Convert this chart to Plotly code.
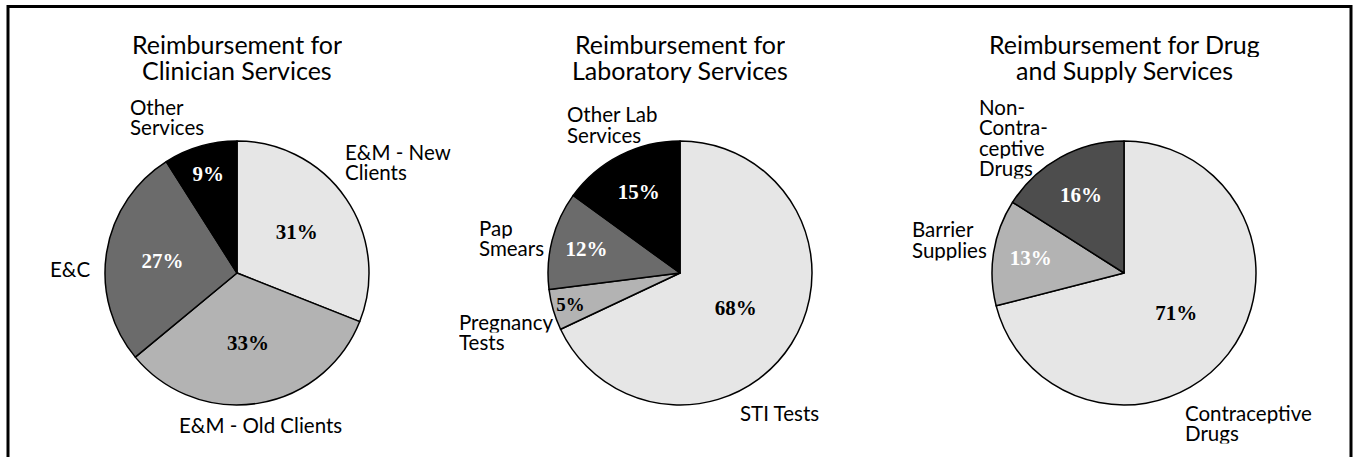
"""Reimbursement breakdown: three pie charts side by side."""

import plotly.graph_objects as go

# ── Data ────────────────────────────────────────────────────────────────────
clinician_labels = ["E&M - New Clients", "E&M - Old Clients", "E&C", "Other Services"]
clinician_values = [31, 33, 27, 9]

lab_labels = ["STI Tests", "Pregnancy Tests", "Pap Smears", "Other Lab Services"]
lab_values = [68, 5, 12, 15]

drug_labels = ["Contraceptive Drugs", "Barrier Supplies", "Non-Contraceptive Drugs"]
drug_values = [71, 13, 16]

titles = [
    ["Reimbursement for", "Clinician Services"],
    ["Reimbursement for", "Laboratory Services"],
    ["Reimbursement for Drug", "and Supply Services"],
]

# ── Styles ──────────────────────────────────────────────────────────────────
W, H = 1353, 457
LABEL_FONT = "Lato, 'Open Sans', sans-serif"
PCT_FONT = "'Liberation Serif', 'DejaVu Serif', serif"

LIGHT, MID, GRAY, DARK, BLACK = "#e6e6e6", "#b3b3b3", "#6b6b6b", "#4d4d4d", "#000000"

pies = [
    dict(labels=clinician_labels, values=clinician_values,
         colors=[LIGHT, MID, GRAY, BLACK],
         text_colors=["black", "black", "white", "white"], cx=237),
    dict(labels=lab_labels, values=lab_values,
         colors=[LIGHT, MID, GRAY, BLACK],
         text_colors=["black", "black", "white", "white"], cx=680),
    dict(labels=drug_labels, values=drug_values,
         colors=[LIGHT, MID, DARK],
         text_colors=["black", "white", "white"], cx=1124),
]
CY, R = 273, 132
LINE_GAP = 20.5     # spacing of the outside label lines, px
TITLE_GAP = 26

# outside slice labels: lines, left edge, centre of first line (px)
side_labels = [
    (["Other", "Services"], 128, 107),
    (["E&M - New", "Clients"], 343, 152),
    (["E&C"], 48, 269),
    (["E&M - Old Clients"], 177, 425),
    (["Other Lab", "Services"], 565, 115),
    (["Pap", "Smears"], 477, 228),
    (["Pregnancy", "Tests"], 457, 322),
    (["STI Tests"], 738, 413),
    (["Non-", "Contra-", "ceptive", "Drugs"], 977, 107),
    (["Barrier", "Supplies"], 910, 230),
    (["Contraceptive", "Drugs"], 1183, 413),
]

fig = go.Figure()

for p in pies:
    fig.add_trace(go.Pie(
        labels=p["labels"],
        values=p["values"],
        sort=False,
        direction="clockwise",
        rotation=0,
        marker=dict(colors=p["colors"], line=dict(color="black", width=1.5)),
        textinfo="none",
        texttemplate="<b>%{value}%</b>",
        textposition="inside",
        insidetextorientation="horizontal",
        textfont=dict(family=PCT_FONT, size=21, color=p["text_colors"]),
        hoverinfo="label+percent",
        showlegend=False,
        domain=dict(
            x=[(p["cx"] - R) / W, (p["cx"] + R) / W],
            y=[(H - CY - R) / H, (H - CY + R) / H],
        ),
    ))

annotations = []
for lines, p in zip(titles, pies):
    for i, line in enumerate(lines):
        annotations.append(dict(
            text=line, x=p["cx"] / W, y=1 - (44 + i * TITLE_GAP) / H,
            xref="paper", yref="paper", xanchor="center", yanchor="middle",
            height=TITLE_GAP, showarrow=False,
            font=dict(family=LABEL_FONT, size=25, color="black"),
        ))
for lines, x, y in side_labels:
    for i, line in enumerate(lines):
        annotations.append(dict(
            text=line, x=x / W, y=1 - (y + i * LINE_GAP) / H,
            xref="paper", yref="paper", xanchor="left", yanchor="middle",
            height=LINE_GAP, showarrow=False,
            font=dict(family=LABEL_FONT, size=20.5, color="black"),
        ))

fig.update_layout(
    width=W, height=H,
    margin=dict(l=0, r=0, t=0, b=0),
    paper_bgcolor="white",
    annotations=annotations,
    shapes=[dict(
        type="rect", xref="paper", yref="paper",
        x0=8 / W, x1=1351 / W, y0=-0.05, y1=1 - 6.5 / H,
        line=dict(color="black", width=3),
    )],
)

# page body has a default 8px margin; drop it so the figure fills the window
fig.write_html(
    "out.html",
    config={"displayModeBar": False},
    post_script="document.body.style.margin='0';",
)
